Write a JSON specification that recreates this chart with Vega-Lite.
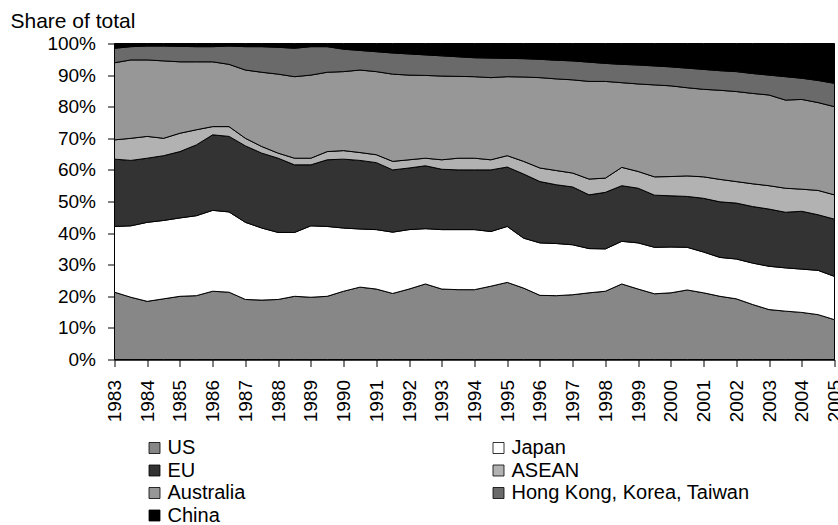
{
"$schema": "https://vega.github.io/schema/vega-lite/v6.json",
"autosize": {"type": "none"},
"width": 720, "height": 316,
"padding": {"left": 114.5, "top": 43.5, "right": 4, "bottom": 166},
"background": "white",
"config": {"view": {"stroke": null}, "font": "Liberation Sans"},
"data": {"values": [
{"t":1983,"s":"US","v":21.3},{"t":1983.5,"s":"US","v":19.7},{"t":1984,"s":"US","v":18.4},{"t":1984.5,"s":"US","v":19.2},{"t":1985,"s":"US","v":20.0},{"t":1985.5,"s":"US","v":20.2},{"t":1986,"s":"US","v":21.6},{"t":1986.5,"s":"US","v":21.3},{"t":1987,"s":"US","v":19.0},{"t":1987.5,"s":"US","v":18.8},{"t":1988,"s":"US","v":19.0},{"t":1988.5,"s":"US","v":20.0},{"t":1989,"s":"US","v":19.7},{"t":1989.5,"s":"US","v":20.0},{"t":1990,"s":"US","v":21.6},{"t":1990.5,"s":"US","v":22.9},{"t":1991,"s":"US","v":22.3},{"t":1991.5,"s":"US","v":20.9},{"t":1992,"s":"US","v":22.3},{"t":1992.5,"s":"US","v":23.9},{"t":1993,"s":"US","v":22.3},{"t":1993.5,"s":"US","v":22.1},{"t":1994,"s":"US","v":22.1},{"t":1994.5,"s":"US","v":23.2},{"t":1995,"s":"US","v":24.4},{"t":1995.5,"s":"US","v":22.6},{"t":1996,"s":"US","v":20.3},{"t":1996.5,"s":"US","v":20.2},{"t":1997,"s":"US","v":20.5},{"t":1997.5,"s":"US","v":21.1},{"t":1998,"s":"US","v":21.6},{"t":1998.5,"s":"US","v":23.9},{"t":1999,"s":"US","v":22.3},{"t":1999.5,"s":"US","v":20.8},{"t":2000,"s":"US","v":21.1},{"t":2000.5,"s":"US","v":22.0},{"t":2001,"s":"US","v":21.1},{"t":2001.5,"s":"US","v":20.0},{"t":2002,"s":"US","v":19.2},{"t":2002.5,"s":"US","v":17.4},{"t":2003,"s":"US","v":15.8},{"t":2003.5,"s":"US","v":15.3},{"t":2004,"s":"US","v":14.9},{"t":2004.5,"s":"US","v":14.2},{"t":2005,"s":"US","v":12.6},
{"t":1983,"s":"Japan","v":20.8},{"t":1983.5,"s":"Japan","v":22.6},{"t":1984,"s":"Japan","v":25.0},{"t":1984.5,"s":"Japan","v":24.8},{"t":1985,"s":"Japan","v":24.8},{"t":1985.5,"s":"Japan","v":25.3},{"t":1986,"s":"Japan","v":25.6},{"t":1986.5,"s":"Japan","v":25.4},{"t":1987,"s":"Japan","v":24.4},{"t":1987.5,"s":"Japan","v":22.8},{"t":1988,"s":"Japan","v":21.2},{"t":1988.5,"s":"Japan","v":20.2},{"t":1989,"s":"Japan","v":22.6},{"t":1989.5,"s":"Japan","v":22.1},{"t":1990,"s":"Japan","v":20.0},{"t":1990.5,"s":"Japan","v":18.4},{"t":1991,"s":"Japan","v":18.8},{"t":1991.5,"s":"Japan","v":19.4},{"t":1992,"s":"Japan","v":18.8},{"t":1992.5,"s":"Japan","v":17.5},{"t":1993,"s":"Japan","v":18.8},{"t":1993.5,"s":"Japan","v":19.0},{"t":1994,"s":"Japan","v":19.0},{"t":1994.5,"s":"Japan","v":17.3},{"t":1995,"s":"Japan","v":17.7},{"t":1995.5,"s":"Japan","v":15.8},{"t":1996,"s":"Japan","v":16.6},{"t":1996.5,"s":"Japan","v":16.5},{"t":1997,"s":"Japan","v":15.8},{"t":1997.5,"s":"Japan","v":14.0},{"t":1998,"s":"Japan","v":13.4},{"t":1998.5,"s":"Japan","v":13.5},{"t":1999,"s":"Japan","v":14.6},{"t":1999.5,"s":"Japan","v":14.7},{"t":2000,"s":"Japan","v":14.5},{"t":2000.5,"s":"Japan","v":13.5},{"t":2001,"s":"Japan","v":12.9},{"t":2001.5,"s":"Japan","v":12.3},{"t":2002,"s":"Japan","v":12.6},{"t":2002.5,"s":"Japan","v":13.1},{"t":2003,"s":"Japan","v":13.7},{"t":2003.5,"s":"Japan","v":13.7},{"t":2004,"s":"Japan","v":13.7},{"t":2004.5,"s":"Japan","v":14.0},{"t":2005,"s":"Japan","v":13.7},
{"t":1983,"s":"EU","v":21.3},{"t":1983.5,"s":"EU","v":20.7},{"t":1984,"s":"EU","v":20.3},{"t":1984.5,"s":"EU","v":20.5},{"t":1985,"s":"EU","v":21.0},{"t":1985.5,"s":"EU","v":22.4},{"t":1986,"s":"EU","v":23.9},{"t":1986.5,"s":"EU","v":23.9},{"t":1987,"s":"EU","v":24.2},{"t":1987.5,"s":"EU","v":23.7},{"t":1988,"s":"EU","v":23.5},{"t":1988.5,"s":"EU","v":21.4},{"t":1989,"s":"EU","v":19.3},{"t":1989.5,"s":"EU","v":21.1},{"t":1990,"s":"EU","v":21.8},{"t":1990.5,"s":"EU","v":21.7},{"t":1991,"s":"EU","v":21.2},{"t":1991.5,"s":"EU","v":19.7},{"t":1992,"s":"EU","v":19.5},{"t":1992.5,"s":"EU","v":19.9},{"t":1993,"s":"EU","v":19.1},{"t":1993.5,"s":"EU","v":18.9},{"t":1994,"s":"EU","v":18.9},{"t":1994.5,"s":"EU","v":19.5},{"t":1995,"s":"EU","v":18.8},{"t":1995.5,"s":"EU","v":20.3},{"t":1996,"s":"EU","v":19.4},{"t":1996.5,"s":"EU","v":18.6},{"t":1997,"s":"EU","v":18.3},{"t":1997.5,"s":"EU","v":17.0},{"t":1998,"s":"EU","v":17.9},{"t":1998.5,"s":"EU","v":17.6},{"t":1999,"s":"EU","v":17.3},{"t":1999.5,"s":"EU","v":16.5},{"t":2000,"s":"EU","v":16.2},{"t":2000.5,"s":"EU","v":16.1},{"t":2001,"s":"EU","v":17.0},{"t":2001.5,"s":"EU","v":17.6},{"t":2002,"s":"EU","v":17.7},{"t":2002.5,"s":"EU","v":17.9},{"t":2003,"s":"EU","v":18.1},{"t":2003.5,"s":"EU","v":17.6},{"t":2004,"s":"EU","v":18.3},{"t":2004.5,"s":"EU","v":17.6},{"t":2005,"s":"EU","v":18.1},
{"t":1983,"s":"ASEAN","v":6.1},{"t":1983.5,"s":"ASEAN","v":7.0},{"t":1984,"s":"ASEAN","v":6.9},{"t":1984.5,"s":"ASEAN","v":5.5},{"t":1985,"s":"ASEAN","v":5.8},{"t":1985.5,"s":"ASEAN","v":4.8},{"t":1986,"s":"ASEAN","v":2.6},{"t":1986.5,"s":"ASEAN","v":3.1},{"t":1987,"s":"ASEAN","v":2.4},{"t":1987.5,"s":"ASEAN","v":2.1},{"t":1988,"s":"ASEAN","v":1.6},{"t":1988.5,"s":"ASEAN","v":2.1},{"t":1989,"s":"ASEAN","v":2.1},{"t":1989.5,"s":"ASEAN","v":2.6},{"t":1990,"s":"ASEAN","v":2.7},{"t":1990.5,"s":"ASEAN","v":2.5},{"t":1991,"s":"ASEAN","v":2.5},{"t":1991.5,"s":"ASEAN","v":2.7},{"t":1992,"s":"ASEAN","v":2.6},{"t":1992.5,"s":"ASEAN","v":2.4},{"t":1993,"s":"ASEAN","v":3.0},{"t":1993.5,"s":"ASEAN","v":3.7},{"t":1994,"s":"ASEAN","v":3.7},{"t":1994.5,"s":"ASEAN","v":3.2},{"t":1995,"s":"ASEAN","v":3.6},{"t":1995.5,"s":"ASEAN","v":4.0},{"t":1996,"s":"ASEAN","v":4.3},{"t":1996.5,"s":"ASEAN","v":4.5},{"t":1997,"s":"ASEAN","v":4.4},{"t":1997.5,"s":"ASEAN","v":5.0},{"t":1998,"s":"ASEAN","v":4.5},{"t":1998.5,"s":"ASEAN","v":5.8},{"t":1999,"s":"ASEAN","v":5.3},{"t":1999.5,"s":"ASEAN","v":5.8},{"t":2000,"s":"ASEAN","v":6.1},{"t":2000.5,"s":"ASEAN","v":6.5},{"t":2001,"s":"ASEAN","v":6.8},{"t":2001.5,"s":"ASEAN","v":7.1},{"t":2002,"s":"ASEAN","v":6.8},{"t":2002.5,"s":"ASEAN","v":7.2},{"t":2003,"s":"ASEAN","v":7.4},{"t":2003.5,"s":"ASEAN","v":7.6},{"t":2004,"s":"ASEAN","v":7.0},{"t":2004.5,"s":"ASEAN","v":7.7},{"t":2005,"s":"ASEAN","v":7.7},
{"t":1983,"s":"Australia","v":24.4},{"t":1983.5,"s":"Australia","v":24.8},{"t":1984,"s":"Australia","v":24.2},{"t":1984.5,"s":"Australia","v":24.5},{"t":1985,"s":"Australia","v":22.6},{"t":1985.5,"s":"Australia","v":21.5},{"t":1986,"s":"Australia","v":20.5},{"t":1986.5,"s":"Australia","v":19.7},{"t":1987,"s":"Australia","v":21.6},{"t":1987.5,"s":"Australia","v":23.5},{"t":1988,"s":"Australia","v":25.0},{"t":1988.5,"s":"Australia","v":25.8},{"t":1989,"s":"Australia","v":26.3},{"t":1989.5,"s":"Australia","v":25.1},{"t":1990,"s":"Australia","v":25.0},{"t":1990.5,"s":"Australia","v":26.1},{"t":1991,"s":"Australia","v":26.3},{"t":1991.5,"s":"Australia","v":27.6},{"t":1992,"s":"Australia","v":26.8},{"t":1992.5,"s":"Australia","v":26.2},{"t":1993,"s":"Australia","v":26.5},{"t":1993.5,"s":"Australia","v":25.9},{"t":1994,"s":"Australia","v":25.8},{"t":1994.5,"s":"Australia","v":26.0},{"t":1995,"s":"Australia","v":25.0},{"t":1995.5,"s":"Australia","v":26.7},{"t":1996,"s":"Australia","v":28.6},{"t":1996.5,"s":"Australia","v":29.0},{"t":1997,"s":"Australia","v":29.5},{"t":1997.5,"s":"Australia","v":30.9},{"t":1998,"s":"Australia","v":30.6},{"t":1998.5,"s":"Australia","v":26.8},{"t":1999,"s":"Australia","v":27.7},{"t":1999.5,"s":"Australia","v":29.1},{"t":2000,"s":"Australia","v":28.7},{"t":2000.5,"s":"Australia","v":27.9},{"t":2001,"s":"Australia","v":27.7},{"t":2001.5,"s":"Australia","v":28.2},{"t":2002,"s":"Australia","v":28.5},{"t":2002.5,"s":"Australia","v":28.6},{"t":2003,"s":"Australia","v":28.7},{"t":2003.5,"s":"Australia","v":27.9},{"t":2004,"s":"Australia","v":28.4},{"t":2004.5,"s":"Australia","v":27.8},{"t":2005,"s":"Australia","v":27.9},
{"t":1983,"s":"Hong Kong, Korea, Taiwan","v":4.6},{"t":1983.5,"s":"Hong Kong, Korea, Taiwan","v":4.2},{"t":1984,"s":"Hong Kong, Korea, Taiwan","v":4.4},{"t":1984.5,"s":"Hong Kong, Korea, Taiwan","v":4.7},{"t":1985,"s":"Hong Kong, Korea, Taiwan","v":4.9},{"t":1985.5,"s":"Hong Kong, Korea, Taiwan","v":4.8},{"t":1986,"s":"Hong Kong, Korea, Taiwan","v":4.8},{"t":1986.5,"s":"Hong Kong, Korea, Taiwan","v":5.8},{"t":1987,"s":"Hong Kong, Korea, Taiwan","v":7.4},{"t":1987.5,"s":"Hong Kong, Korea, Taiwan","v":8.1},{"t":1988,"s":"Hong Kong, Korea, Taiwan","v":8.5},{"t":1988.5,"s":"Hong Kong, Korea, Taiwan","v":9.0},{"t":1989,"s":"Hong Kong, Korea, Taiwan","v":9.0},{"t":1989.5,"s":"Hong Kong, Korea, Taiwan","v":8.1},{"t":1990,"s":"Hong Kong, Korea, Taiwan","v":7.1},{"t":1990.5,"s":"Hong Kong, Korea, Taiwan","v":6.2},{"t":1991,"s":"Hong Kong, Korea, Taiwan","v":6.3},{"t":1991.5,"s":"Hong Kong, Korea, Taiwan","v":6.7},{"t":1992,"s":"Hong Kong, Korea, Taiwan","v":6.7},{"t":1992.5,"s":"Hong Kong, Korea, Taiwan","v":6.5},{"t":1993,"s":"Hong Kong, Korea, Taiwan","v":6.4},{"t":1993.5,"s":"Hong Kong, Korea, Taiwan","v":6.2},{"t":1994,"s":"Hong Kong, Korea, Taiwan","v":6.0},{"t":1994.5,"s":"Hong Kong, Korea, Taiwan","v":6.2},{"t":1995,"s":"Hong Kong, Korea, Taiwan","v":5.8},{"t":1995.5,"s":"Hong Kong, Korea, Taiwan","v":5.8},{"t":1996,"s":"Hong Kong, Korea, Taiwan","v":5.8},{"t":1996.5,"s":"Hong Kong, Korea, Taiwan","v":5.9},{"t":1997,"s":"Hong Kong, Korea, Taiwan","v":6.0},{"t":1997.5,"s":"Hong Kong, Korea, Taiwan","v":6.1},{"t":1998,"s":"Hong Kong, Korea, Taiwan","v":5.7},{"t":1998.5,"s":"Hong Kong, Korea, Taiwan","v":5.8},{"t":1999,"s":"Hong Kong, Korea, Taiwan","v":6.0},{"t":1999.5,"s":"Hong Kong, Korea, Taiwan","v":6.0},{"t":2000,"s":"Hong Kong, Korea, Taiwan","v":6.0},{"t":2000.5,"s":"Hong Kong, Korea, Taiwan","v":6.2},{"t":2001,"s":"Hong Kong, Korea, Taiwan","v":6.3},{"t":2001.5,"s":"Hong Kong, Korea, Taiwan","v":6.2},{"t":2002,"s":"Hong Kong, Korea, Taiwan","v":6.3},{"t":2002.5,"s":"Hong Kong, Korea, Taiwan","v":6.3},{"t":2003,"s":"Hong Kong, Korea, Taiwan","v":6.3},{"t":2003.5,"s":"Hong Kong, Korea, Taiwan","v":7.4},{"t":2004,"s":"Hong Kong, Korea, Taiwan","v":6.7},{"t":2004.5,"s":"Hong Kong, Korea, Taiwan","v":7.0},{"t":2005,"s":"Hong Kong, Korea, Taiwan","v":7.4},
{"t":1983,"s":"China","v":1.5},{"t":1983.5,"s":"China","v":1.0},{"t":1984,"s":"China","v":0.8},{"t":1984.5,"s":"China","v":0.8},{"t":1985,"s":"China","v":0.9},{"t":1985.5,"s":"China","v":1.0},{"t":1986,"s":"China","v":1.0},{"t":1986.5,"s":"China","v":0.8},{"t":1987,"s":"China","v":1.0},{"t":1987.5,"s":"China","v":1.0},{"t":1988,"s":"China","v":1.2},{"t":1988.5,"s":"China","v":1.5},{"t":1989,"s":"China","v":1.0},{"t":1989.5,"s":"China","v":1.0},{"t":1990,"s":"China","v":1.8},{"t":1990.5,"s":"China","v":2.2},{"t":1991,"s":"China","v":2.6},{"t":1991.5,"s":"China","v":3.0},{"t":1992,"s":"China","v":3.3},{"t":1992.5,"s":"China","v":3.6},{"t":1993,"s":"China","v":3.9},{"t":1993.5,"s":"China","v":4.2},{"t":1994,"s":"China","v":4.5},{"t":1994.5,"s":"China","v":4.6},{"t":1995,"s":"China","v":4.7},{"t":1995.5,"s":"China","v":4.8},{"t":1996,"s":"China","v":5.0},{"t":1996.5,"s":"China","v":5.3},{"t":1997,"s":"China","v":5.5},{"t":1997.5,"s":"China","v":5.9},{"t":1998,"s":"China","v":6.3},{"t":1998.5,"s":"China","v":6.6},{"t":1999,"s":"China","v":6.8},{"t":1999.5,"s":"China","v":7.1},{"t":2000,"s":"China","v":7.4},{"t":2000.5,"s":"China","v":7.8},{"t":2001,"s":"China","v":8.2},{"t":2001.5,"s":"China","v":8.6},{"t":2002,"s":"China","v":8.9},{"t":2002.5,"s":"China","v":9.5},{"t":2003,"s":"China","v":10.0},{"t":2003.5,"s":"China","v":10.5},{"t":2004,"s":"China","v":11.0},{"t":2004.5,"s":"China","v":11.7},{"t":2005,"s":"China","v":12.6}
]},
"transform": [
{"calculate": "indexof(['US','Japan','EU','ASEAN','Australia','Hong Kong, Korea, Taiwan','China'], datum.s)", "as": "o"}
],
"mark": {"type": "area", "stroke": "black", "strokeWidth": 1, "strokeJoin": "miter"},
"encoding": {
"x": {"field": "t", "type": "quantitative",
 "scale": {"domain": [1983, 2005], "nice": false, "zero": false},
 "axis": {"values": [1983,1984,1985,1986,1987,1988,1989,1990,1991,1992,1993,1994,1995,1996,1997,1998,1999,2000,2001,2002,2003,2004,2005],
  "format": "d", "labelAngle": 270, "title": null, "grid": false,
  "domainColor": "black", "domainWidth": 1.5, "tickColor": "black", "tickSize": 7, "tickWidth": 1,
  "labelFont": "Liberation Sans", "labelFontSize": 19, "labelColor": "black", "labelPadding": 13,
  "labelOverlap": false, "labelFlush": false, "labelBound": false}},
"y": {"field": "v", "type": "quantitative", "stack": "zero",
 "scale": {"domain": [0, 100], "nice": false},
 "axis": {"values": [0,10,20,30,40,50,60,70,80,90,100], "labelExpr": "datum.value + '%'",
  "title": "Share of total", "titleAngle": 0, "titleAlign": "left", "titleBaseline": "alphabetic",
  "titleX": -104.5, "titleY": -16.5, "titleFont": "Liberation Sans", "titleFontSize": 21, "titleFontWeight": "normal", "titleColor": "black",
  "grid": false, "domainColor": "black", "domainWidth": 1.5, "tickColor": "black", "tickSize": 7, "tickWidth": 1,
  "labelFont": "Liberation Sans", "labelFontSize": 19, "labelColor": "black", "labelPadding": 12,
  "labelOverlap": false, "labelFlush": false, "labelBound": false}},
"color": {"field": "s", "type": "nominal",
 "scale": {"domain": ["US","EU","Australia","China","Japan","ASEAN","Hong Kong, Korea, Taiwan"],
  "range": ["#878787","#333333","#979797","#000000","#ffffff","#b2b2b2","#6a6a6a"]},
 "legend": {"orient": "none", "legendX": 30, "legendY": 394.5, "columns": 2, "columnPadding": 243, "rowPadding": 2.5,
  "title": null, "symbolType": "square", "symbolSize": 121, "symbolStrokeColor": "black", "symbolStrokeWidth": 0.8, "symbolOpacity": 1,
  "labelFont": "Liberation Sans", "labelFontSize": 20, "labelColor": "black", "labelOffset": 3, "padding": 0, "labelLimit": 400}},
"order": {"field": "o", "type": "quantitative"}
}
}
